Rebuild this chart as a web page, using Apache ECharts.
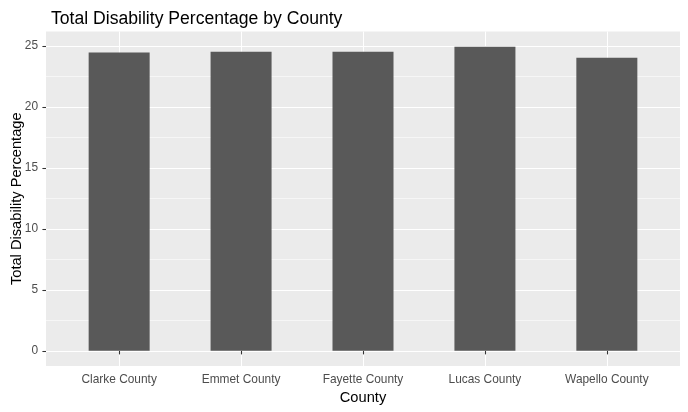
<!DOCTYPE html>
<html>
<head>
<meta charset="utf-8">
<script src="https://cdn.jsdelivr.net/npm/echarts@6/dist/echarts.min.js"></script>
<style>html,body{margin:0;padding:0;background:#fff}#c{width:688px;height:412px}</style>
</head>
<body>
<div id="c"></div>
<script>
const categories = ['Clarke County', 'Emmet County', 'Fayette County', 'Lucas County', 'Wapello County'];
const values = [24.47, 24.53, 24.53, 24.94, 24.04];
const yTicks = [0, 5, 10, 15, 20, 25];
const yMinor = [2.5, 7.5, 12.5, 17.5, 22.5];

const positions = categories.map((c, i) => i + 1);
const maxV = Math.max(...values);
const yMin = -0.05 * maxV, yMax = maxV * 1.05;
const FONT = 'Liberation Sans, Arial, sans-serif';

const chart = echarts.init(document.getElementById('c'));
chart.setOption({
  animation: false,
  backgroundColor: '#ffffff',
  title: {
    text: 'Total Disability Percentage by County',
    left: 46, top: 5,
    textStyle: { fontFamily: FONT, fontSize: 17.6, fontWeight: 'normal', color: '#000' }
  },
  grid: { left: 46, right: 8, top: 31.5, bottom: 46, backgroundColor: '#EBEBEB', show: true, borderWidth: 0,
    containLabel: false, outerBoundsMode: 'none' },
  xAxis: {
    type: 'value', min: 0.4, max: 5.6,
    name: 'County', nameLocation: 'middle', nameGap: 24, nameMoveOverlap: false,
    nameTextStyle: { fontFamily: FONT, fontSize: 14.67, color: '#000' },
    axisLine: { show: false },
    axisTick: { show: true, length: 3.6, lineStyle: { color: '#333333', width: 1.07 }, customValues: positions },
    axisLabel: { margin: 7.5, fontFamily: FONT, fontSize: 11.9, color: '#4D4D4D', customValues: positions,
      formatter: v => categories[Math.round(v) - 1] || '' },
    splitLine: { show: true, lineStyle: { color: '#ffffff', width: 1.07 } }
  },
  yAxis: [{
    type: 'value', min: yMin, max: yMax,
    name: 'Total Disability Percentage', nameLocation: 'middle', nameGap: 21.5, nameMoveOverlap: false,
    nameTextStyle: { fontFamily: FONT, fontSize: 14.67, color: '#000' },
    axisLine: { show: false },
    axisTick: { show: true, length: 3.6, lineStyle: { color: '#333333', width: 1.07 }, customValues: yTicks },
    axisLabel: { margin: 8, fontFamily: FONT, fontSize: 11.9, color: '#4D4D4D', customValues: yTicks },
    splitLine: { show: true, lineStyle: { color: '#ffffff', width: 1.07 } }
  }, {
    type: 'value', min: yMin, max: yMax, position: 'left',
    axisLine: { show: false },
    axisTick: { show: false, customValues: yMinor },
    axisLabel: { show: false, customValues: yMinor },
    splitLine: { show: true, lineStyle: { color: '#ffffff', width: 0.55 } }
  }],
  series: [{
    type: 'bar', yAxisIndex: 0,
    data: positions.map((p, i) => [p, values[i]]),
    barWidth: 61,
    itemStyle: { color: '#595959' },
    z: 5
  }]
});
</script>
</body>
</html>
